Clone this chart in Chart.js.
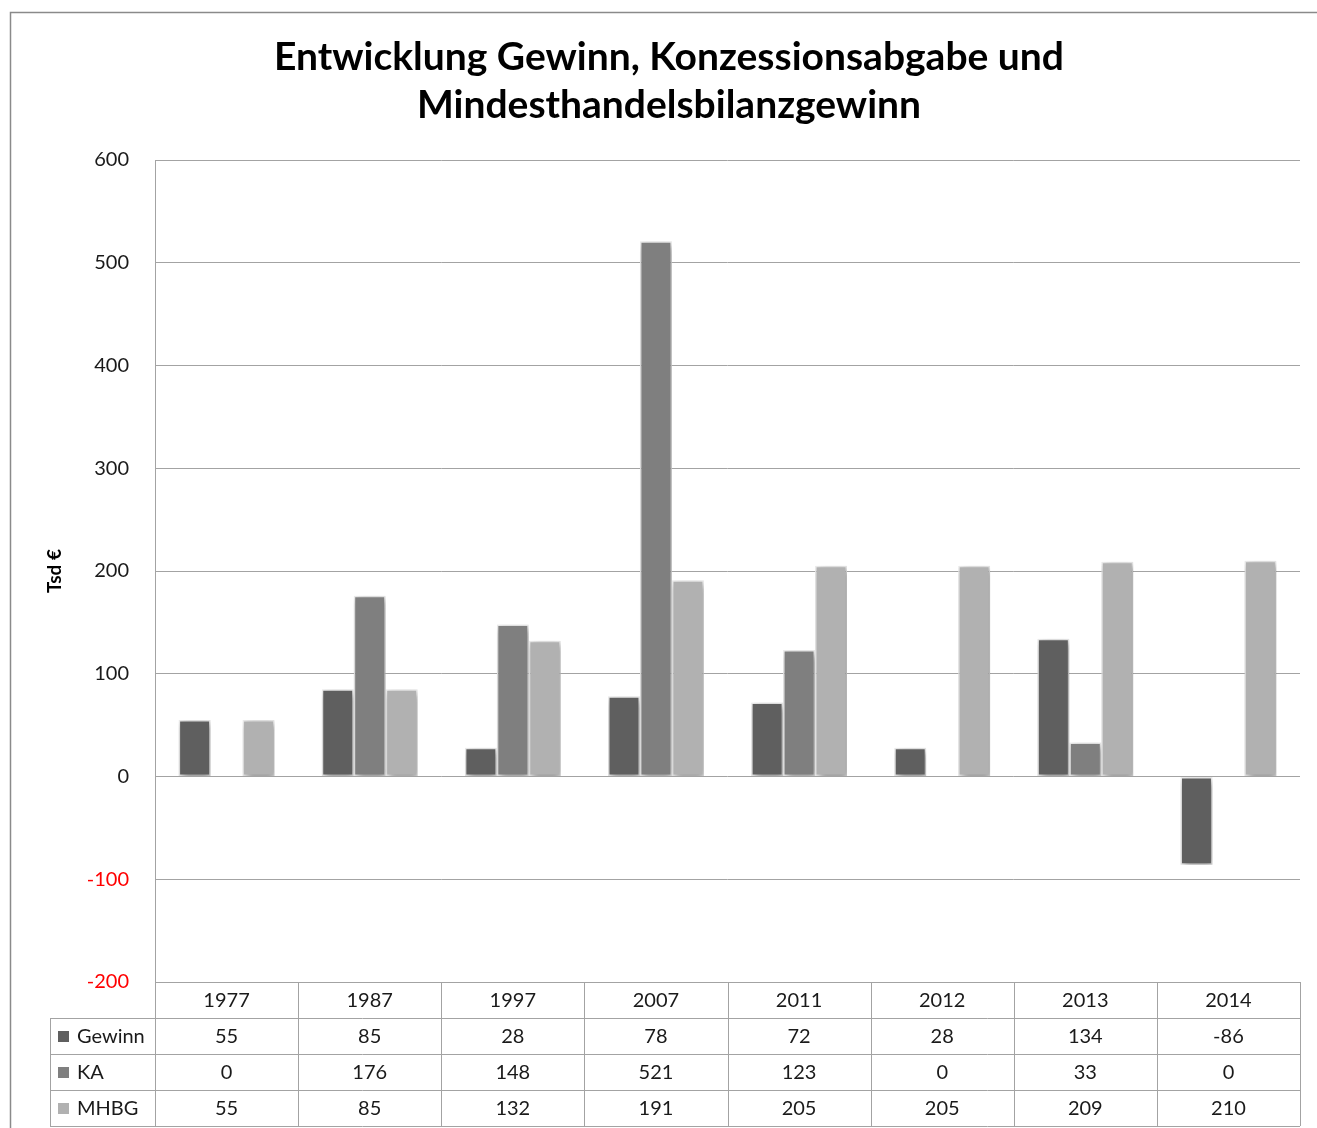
<!DOCTYPE html>
<html>
<head>
<meta charset="utf-8">
<script src="https://cdn.jsdelivr.net/npm/chart.js@4.4.1/dist/chart.umd.min.js"></script>
<style>
  html, body { margin: 0; padding: 0; background: #fff; }
  canvas { display: block; }
</style>
</head>
<body>
<canvas id="gewinnChart" width="1317" height="1128"></canvas>
<script>
// data
const years = ["1977", "1987", "1997", "2007", "2011", "2012", "2013", "2014"];
const gewinn = [55, 85, 28, 78, 72, 28, 134, -86];
const ka = [0, 176, 148, 521, 123, 0, 33, 0];
const mhbg = [55, 85, 132, 191, 205, 205, 209, 210];
const seriesNames = ["Gewinn", "KA", "MHBG"];
const titleLines = ["Entwicklung Gewinn, Konzessionsabgabe und", "Mindesthandelsbilanzgewinn"];
const yTitle = "Tsd €";

const seriesColors = ["#5f5f5f", "#7f7f7f", "#b1b1b1"];
const gridColor = "#a3a3a3";
const fontFamily = "Lato, 'Open Sans', sans-serif";

document.addEventListener("DOMContentLoaded", function () {
    const ctx = document.getElementById("gewinnChart")?.getContext("2d");
    if (!ctx) return;

    const allSeries = [gewinn, ka, mhbg];

    // soft shadow under the bars, like the Excel original
    const barShadow = {
        id: "barShadow",
        beforeDatasetsDraw(chart) {
            const c = chart.ctx;
            c.save();
            c.shadowColor = "rgba(0,0,0,0.4)";
            c.shadowBlur = 7;
            c.shadowOffsetX = 2;
            c.shadowOffsetY = 3;
        },
        afterDatasetsDraw(chart) {
            chart.ctx.restore();
        }
    };

    // frame, title, axis title and the data table under the plot
    const frameAndTable = {
        id: "frameAndTable",
        afterDraw(chart) {
            const c = chart.ctx;
            const area = chart.chartArea;
            const xs = chart.scales.x;
            const catW = (area.right - area.left) / years.length;
            const rowH = 36;
            const top = area.bottom;
            const bottom = top + rowH * 4;
            const legendLeft = 50;

            c.save();

            // outer frame
            c.strokeStyle = "#8a8a8a";
            c.lineWidth = 1.5;
            c.strokeRect(10.5, 12.5, 1400, 1200);

            // title
            c.fillStyle = "#000";
            c.textAlign = "center";
            c.textBaseline = "middle";
            c.font = "bold 39px " + fontFamily;
            titleLines.forEach((t, i) => c.fillText(t, 669, 57 + i * 48));

            // y axis title
            c.save();
            c.translate(55, 571);
            c.rotate(-Math.PI / 2);
            c.font = "bold 19px " + fontFamily;
            c.fillText(yTitle, 0, 0);
            c.restore();

            // table lines
            c.strokeStyle = gridColor;
            c.lineWidth = 1;
            c.beginPath();
            for (let r = 0; r <= 4; r++) {
                const y = Math.round(top + r * rowH) + 0.5;
                c.moveTo(r === 0 ? area.left : legendLeft, y);
                c.lineTo(area.right, y);
            }
            for (let i = 1; i <= years.length; i++) {
                const x = Math.round(area.left + i * catW) + 0.5;
                c.moveTo(x, top);
                c.lineTo(x, bottom);
            }
            c.moveTo(legendLeft + 0.5, top + rowH);
            c.lineTo(legendLeft + 0.5, bottom);
            // y axis line runs through the table
            c.moveTo(Math.round(area.left) + 0.5, area.top);
            c.lineTo(Math.round(area.left) + 0.5, bottom);
            c.stroke();

            // header years
            c.font = "20px " + fontFamily;
            c.fillStyle = "#1a1a1a";
            c.textAlign = "center";
            years.forEach((y, i) => c.fillText(y, xs.getPixelForValue(i), top + rowH / 2 + 1));

            // series rows
            allSeries.forEach((vals, s) => {
                const cy = top + rowH * (s + 1) + rowH / 2 + 1;
                c.fillStyle = seriesColors[s];
                c.fillRect(58, cy - 6, 11, 11);
                c.fillStyle = "#1a1a1a";
                c.textAlign = "left";
                c.fillText(seriesNames[s], 77, cy);
                c.textAlign = "center";
                vals.forEach((v, i) => c.fillText(String(v), xs.getPixelForValue(i), cy));
            });

            c.restore();
        }
    };

    new Chart(ctx, {
        type: "bar",
        data: {
            labels: years,
            datasets: allSeries.map((vals, s) => ({
                label: seriesNames[s],
                data: vals.map(v => (v === 0 ? null : v)),
                backgroundColor: seriesColors[s],
                borderColor: "#ececec",
                borderWidth: 1.5,
                borderSkipped: false,
                categoryPercentage: 0.67,
                barPercentage: 1
            }))
        },
        options: {
            responsive: false,
            animation: false,
            layout: { padding: { top: 160, right: 17, bottom: 0, left: 0 } },
            scales: {
                x: {
                    ticks: { display: false },
                    grid: { display: false },
                    border: { display: false },
                    afterFit(scale) { scale.height = 146; }
                },
                y: {
                    min: -200,
                    max: 600,
                    ticks: {
                        stepSize: 100,
                        padding: 26,
                        font: { family: fontFamily, size: 20 },
                        color: (c) => (c.tick.value < 0 ? "#ff0000" : "#1a1a1a")
                    },
                    grid: { color: gridColor, drawTicks: false },
                    border: { display: false },
                    afterFit(scale) { scale.width = 155; }
                }
            },
            plugins: {
                legend: { display: false },
                tooltip: { enabled: false }
            }
        },
        plugins: [barShadow, frameAndTable]
    });
});
</script>
</body>
</html>
